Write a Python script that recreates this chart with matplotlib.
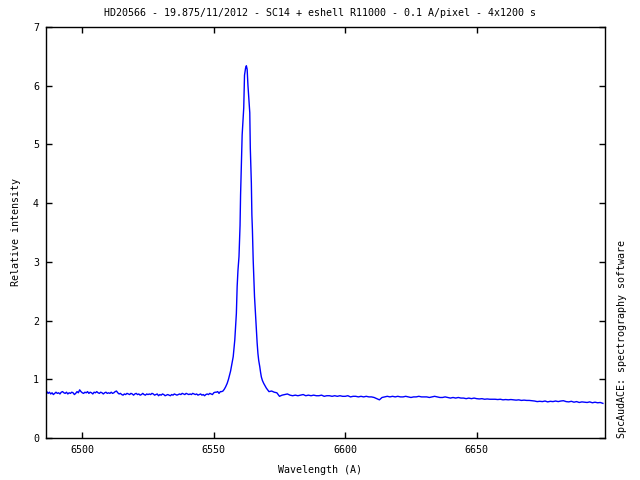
import numpy as np
import matplotlib
matplotlib.use("Agg")
import matplotlib.pyplot as plt

# ---- data ----
left_start, left_step = 6486.0, 0.5
left_vals = [
    0.77,0.79,0.76,0.78,0.75,0.77,0.74,0.76,0.78,0.76,
    0.77,0.75,0.78,0.79,0.77,0.76,0.78,0.75,0.77,0.76,
    0.78,0.77,0.74,0.76,0.79,0.77,0.82,0.79,0.77,0.76,
    0.78,0.77,0.79,0.76,0.78,0.77,0.75,0.78,0.77,0.79,
    0.77,0.76,0.78,0.77,0.75,0.77,0.78,0.76,0.77,0.76,
    0.78,0.76,0.77,0.79,0.80,0.77,0.75,0.76,0.74,0.73,
    0.75,0.74,0.76,0.75,0.74,0.76,0.75,0.73,0.75,0.76,
    0.74,0.75,0.73,0.74,0.76,0.74,0.73,0.75,0.74,0.75,
    0.74,0.76,0.75,0.73,0.74,0.75,0.72,0.74,0.73,0.75,
    0.74,0.72,0.73,0.74,0.73,0.72,0.74,0.73,0.75,0.74,
    0.73,0.74,0.75,0.74,0.76,0.75,0.74,0.76,0.75,0.74,
    0.75,0.74,0.76,0.75,0.74,0.75,0.73,0.74,0.75,0.73,
    0.74,0.72,0.74,0.75,0.74,0.76,0.75,0.74,0.77,0.78,
    0.78,0.79,0.76,0.79,
]

peak_wl = [
    6553.0,6553.5,6554.0,6554.5,6555.1,6555.6,6556.0,6556.4,6556.7,6557.0,
    6557.4,6557.7,6558.0,6558.3,6558.6,6558.9,6559.2,6559.6,6560.0,6560.2,
    6560.5,6560.8,6561.1,6561.4,6561.7,6562.1,6562.4,6562.7,6563.0,6563.4,
    6563.7,6563.9,6564.3,6564.5,6564.7,6565.0,6565.5,6565.9,6566.2,6566.5,
    6566.8,6567.1,6567.5,6567.8,6568.1,6568.5,6569.0,6569.5,6570.0,6570.5,
]
peak_vals = [
    0.79,0.80,0.83,0.87,0.93,1.00,1.07,1.14,1.215,1.30,
    1.385,1.52,1.67,1.90,2.12,2.58,2.85,3.09,3.62,4.14,
    4.65,5.16,5.40,5.62,6.18,6.30,6.34,6.28,6.01,5.75,
    5.54,4.94,4.34,3.80,3.55,3.03,2.41,2.10,1.84,1.62,
    1.44,1.32,1.215,1.12,1.04,0.98,0.93,0.89,0.85,0.82,
]

right_start, right_step = 6571.0, 1.0
right_vals = [
    0.79,0.80,0.78,0.77,0.71,0.73,0.74,0.75,0.73,0.72,
    0.73,0.72,0.73,0.74,0.72,0.73,0.72,0.73,0.72,0.72,
    0.73,0.71,0.72,0.72,0.71,0.72,0.71,0.72,0.71,0.71,
    0.72,0.70,0.71,0.71,0.70,0.71,0.70,0.71,0.70,0.70,
    0.69,0.67,0.65,0.69,0.70,0.71,0.70,0.71,0.70,0.71,
    0.70,0.70,0.71,0.70,0.69,0.70,0.70,0.71,0.70,0.70,
    0.70,0.69,0.70,0.71,0.70,0.69,0.69,0.70,0.69,0.68,
    0.69,0.68,0.69,0.68,0.68,0.67,0.68,0.67,0.68,0.67,
    0.665,0.67,0.66,0.665,0.66,0.66,0.66,0.655,0.66,0.65,
    0.655,0.65,0.655,0.65,0.645,0.65,0.64,0.645,0.64,0.64,
    0.635,0.63,0.62,0.625,0.62,0.63,0.615,0.625,0.62,0.63,
    0.62,0.63,0.635,0.62,0.615,0.625,0.61,0.62,0.605,0.615,
    0.61,0.605,0.615,0.60,0.61,0.60,0.605,0.59,
]

x_ticks = [6500, 6550, 6600, 6650]
y_ticks = [0, 1, 2, 3, 4, 5, 6, 7]
title = "HD20566 - 19.875/11/2012 - SC14 + eshell R11000 - 0.1 A/pixel - 4x1200 s"
xlabel = "Wavelength (A)"
ylabel = "Relative intensity"
side_text = "SpcAudACE: spectrography software"

# ---- build series ----
left_wl = left_start + left_step * np.arange(len(left_vals))
right_wl = right_start + right_step * np.arange(len(right_vals))
wl = np.concatenate([left_wl, np.array(peak_wl), right_wl])
flux = np.concatenate([np.array(left_vals), np.array(peak_vals), np.array(right_vals)])

plt.rcParams['font.family'] = ['DejaVu Sans Mono']
fs = 7.2

fig = plt.figure(figsize=(6.4, 4.8), dpi=100)
ax = fig.add_axes([46/640, 42/480, (605-46)/640, (438-27)/480])
ax.plot(wl, flux, color='#0000ff', lw=1.0)

ax.set_xlim(6486.2, 6698.8)
ax.set_ylim(0, 7)
ax.set_xticks(x_ticks)
ax.set_yticks(y_ticks)
ax.tick_params(direction='in', length=4, width=1, top=True, right=True,
               labelsize=fs, pad=5)
for s in ax.spines.values():
    s.set_linewidth(1.0)

fig.text(0.5, 1 - 13/480, title, ha='center', va='center', fontsize=fs)
fig.text(0.5, 1 - 470/480, xlabel, ha='center', va='center', fontsize=fs)
fig.text(16/640, 0.5 + (480/2 - 232)/480, ylabel, ha='center', va='center',
         rotation=90, fontsize=fs)
fig.text(622/640, 42/480, side_text, ha='center', va='bottom',
         rotation=90, fontsize=fs)

fig.savefig("out.png", dpi=100)
